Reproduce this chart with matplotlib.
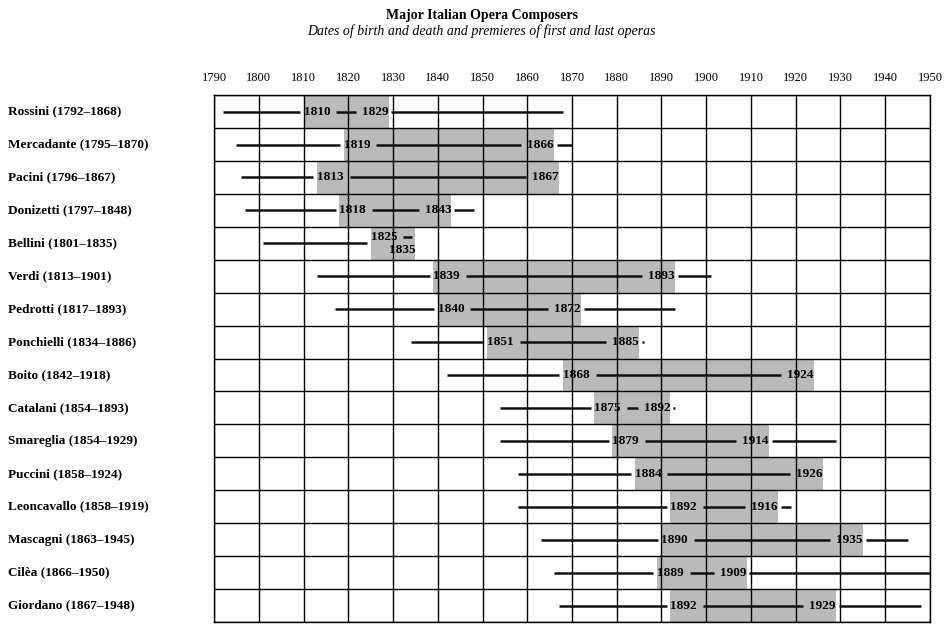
import matplotlib.pyplot as plt
from matplotlib.patches import Rectangle
from matplotlib.transforms import blended_transform_factory

# composers, life spans and first / last opera premieres
composers = ["Rossini", "Mercadante", "Pacini", "Donizetti", "Bellini", "Verdi",
             "Pedrotti", "Ponchielli", "Boito", "Catalani", "Smareglia", "Puccini",
             "Leoncavallo", "Mascagni", "Cilèa", "Giordano"]
born = [1792, 1795, 1796, 1797, 1801, 1813, 1817, 1834, 1842, 1854, 1854, 1858,
        1858, 1863, 1866, 1867]
died = [1868, 1870, 1867, 1848, 1835, 1901, 1893, 1886, 1918, 1893, 1929, 1924,
        1919, 1945, 1950, 1948]
first_opera = [1810, 1819, 1813, 1818, 1825, 1839, 1840, 1851, 1868, 1875, 1879,
               1884, 1892, 1890, 1889, 1892]
last_opera = [1829, 1866, 1867, 1843, 1835, 1893, 1872, 1885, 1924, 1892, 1914,
              1926, 1916, 1935, 1909, 1929]
decades = list(range(1790, 1951, 10))

plt.rcParams['font.family'] = ['Liberation Serif', 'DejaVu Serif']

fig = plt.figure(figsize=(9.5, 6.3), dpi=100)
ax = fig.add_axes([0.2253, 0.0127, 0.9789 - 0.2253, 0.849 - 0.0127])
ax.set_xlim(1790, 1950)
ax.set_ylim(len(composers), 0)

box_color = "#bababa"
lw_life = 1.8
label_w = 6.5   # width of a year label, in years
gap = 0.8

# grid
ax.vlines(decades, 0, len(composers), color="black", lw=1.0, zorder=2)
ax.hlines(range(len(composers) + 1), 1790, 1950, color="black", lw=1.0, zorder=2)
for s in ax.spines.values():
    s.set_linewidth(1.0)

lab_tr = blended_transform_factory(fig.transFigure, ax.transData)

for i, name in enumerate(composers):
    y = i + 0.5
    b, d, f, l = born[i], died[i], first_opera[i], last_opera[i]

    # career box
    ax.add_patch(Rectangle((f, i), l - f, 1, facecolor=box_color,
                           edgecolor="none", zorder=1))

    ax.text(0.0084, y, f"{name} ({b}–{d})", transform=lab_tr, ha="left",
            va="center", fontsize=9.5, fontweight="bold")

    segs = [(b, f - gap, y)]
    if l - f >= 2 * label_w + 2:
        ax.text(f, y, str(f), ha="left", va="center", fontsize=9.5,
                fontweight="bold", zorder=4)
        ax.text(l, y, str(l), ha="right", va="center", fontsize=9.5,
                fontweight="bold", zorder=4)
        segs.append((f + label_w + gap, l - label_w - gap, y))
    else:
        # narrow box: stack the two labels
        ax.text(f, y - 0.2, str(f), ha="left", va="center", fontsize=9.5,
                fontweight="bold", zorder=4)
        ax.text(l, y + 0.2, str(l), ha="right", va="center", fontsize=9.5,
                fontweight="bold", zorder=4)
        segs.append((f + label_w + gap, l - 0.8, y - 0.2))
    segs.append((l + 0.6, d, y))

    for x0, x1, yy in segs:
        if x1 > x0:
            ax.plot([x0, x1], [yy, yy], color="#111111", lw=lw_life,
                    solid_capstyle="butt", zorder=3)

ax.set_xticks(decades)
ax.set_xticklabels([str(x) for x in decades], fontsize=9)
ax.set_yticks([])
ax.xaxis.tick_top()
ax.tick_params(axis="x", length=0, pad=8)

fig.text(0.507, 0.975, "Major Italian Opera Composers", ha="center",
         va="center", fontsize=10, fontweight="bold")
fig.text(0.507, 0.951, "Dates of birth and death and premieres of first and last operas",
         ha="center", va="center", fontsize=10, style="italic")

fig.savefig("out.png", dpi=100)
